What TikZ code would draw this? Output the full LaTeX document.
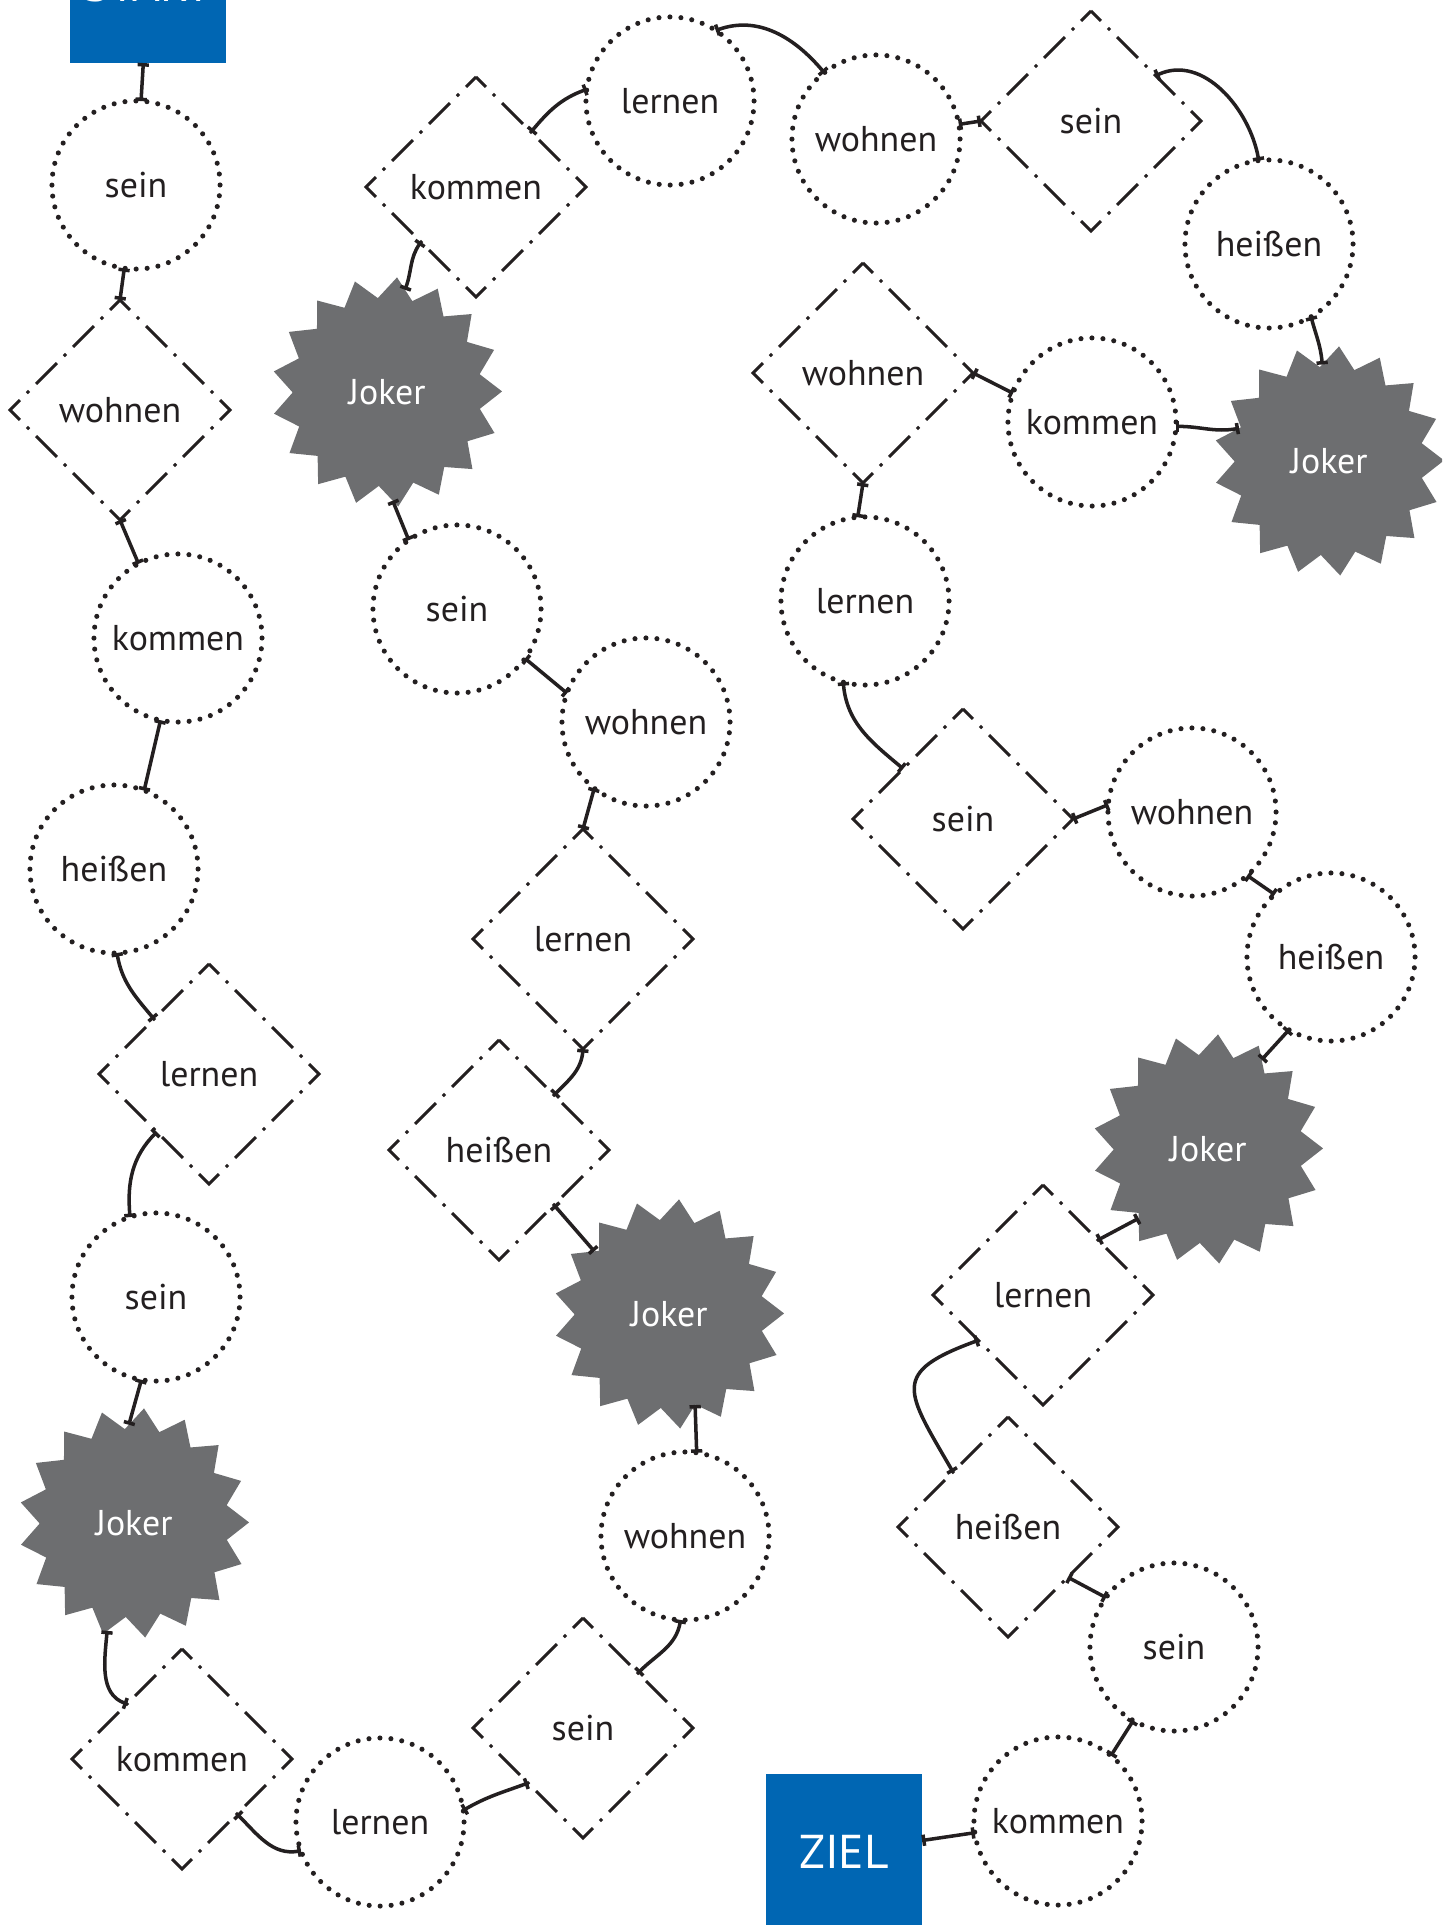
\documentclass[tikz,border=0pt]{standalone}
\usepackage{fontspec}
\setmainfont{PT Sans}
\usepackage{xcolor}
\usepackage{tikz}
\usetikzlibrary{shapes.geometric, arrows.meta}
\definecolor{ink}{RGB}{35,31,32}
\definecolor{jokergray}{RGB}{109,110,112}
\definecolor{fieldblue}{RGB}{0,102,179}
\tikzstyle{ring} = [circle, minimum size=1.68cm, inner sep=0pt, outer sep=0pt, draw=ink, line width=1.45pt, line cap=round, dash pattern=on 0pt off 3.13pt, text=ink, font=\fontsize{10.2}{12}\selectfont]
\tikzstyle{rhomb} = [diamond, minimum size=2.2cm, inner sep=0pt, outer sep=0pt, text=ink, font=\fontsize{10.2}{12}\selectfont]
\tikzstyle{rhombline} = [draw=ink, line width=0.85pt, line join=miter, dash pattern=on 8pt off 2.8pt on 0.9pt off 2.8pt on 8.38pt off 2.8pt on 0.9pt off 2.8pt on 8.38pt off 2.8pt on 0.9pt off 2.8pt, dash phase=4pt]
\tikzstyle{joker} = [star, star points=17, star point ratio=1.22, shape border rotate=-5, minimum size=2.3cm, inner sep=0pt, outer sep=0pt, fill=jokergray, text=white, font=\fontsize{10.2}{12}\selectfont]
\tikzstyle{goal} = [rectangle, minimum size=1.56cm, inner sep=0pt, outer sep=0pt, fill=fieldblue, text=white, font=\fontsize{13.5}{16}\selectfont]
\tikzstyle{conn} = [draw=ink, line width=1pt, {Bar[width=3.2pt]}-{Bar[width=3.2pt]}]

\begin{document}
\begin{tikzpicture}[x=0.01cm, y=0.01cm]
        \useasboundingbox (0,0) rectangle (1442,-1925);
        \clip (0,0) rectangle (1442,-1925);

        % left column
        \node (start) [goal] at (148,15) {START};
        \node (sein1) [ring] at (136,-185) {sein};
        \node (wohnen1) [rhomb] at (120,-410) {wohnen};
        \node (kommen1) [ring] at (178,-638) {kommen};
        \node (heissen1) [ring] at (114,-869) {heißen};
        \node (lernen1) [rhomb] at (209,-1074) {lernen};
        \node (sein2) [ring] at (156,-1297) {sein};
        \node (joker1) [joker] at (134,-1523) {Joker};
        \node (kommen2) [rhomb] at (182,-1759) {kommen};

        % middle column
        \node (lernen2) [ring] at (380,-1822) {lernen};
        \node (sein3) [rhomb] at (583,-1728) {sein};
        \node (wohnen2) [ring] at (685,-1536) {wohnen};
        \node (joker2) [joker] at (669,-1314) {Joker};
        \node (heissen2) [rhomb] at (499,-1150) {heißen};
        \node (lernen3) [rhomb] at (583,-939) {lernen};
        \node (wohnen3) [ring] at (646,-722) {wohnen};
        \node (sein4) [ring] at (457,-609) {sein};
        \node (joker3) [joker] at (387,-392) {Joker};
        \node (kommen3) [rhomb] at (476,-187) {kommen};

        % top row
        \node (lernen4) [ring] at (670,-101) {lernen};
        \node (wohnen4) [ring] at (876,-139) {wohnen};
        \node (sein5) [rhomb] at (1091,-121) {sein};
        \node (heissen3) [ring] at (1269,-244) {heißen};
        \node (joker4) [joker] at (1329,-461) {Joker};

        % right column
        \node (kommen4) [ring] at (1092,-422) {kommen};
        \node (wohnen5) [rhomb] at (863,-373) {wohnen};
        \node (lernen5) [ring] at (865,-601) {lernen};
        \node (sein6) [rhomb] at (963,-819) {sein};
        \node (wohnen6) [ring] at (1192,-812) {wohnen};
        \node (heissen4) [ring] at (1331,-957) {heißen};
        \node (joker5) [joker] at (1208,-1149) {Joker};
        \node (lernen6) [rhomb] at (1043,-1295) {lernen};
        \node (heissen5) [rhomb] at (1008,-1527) {heißen};
        \node (sein7) [ring] at (1174,-1647) {sein};
        \node (kommen5) [ring] at (1058,-1821) {kommen};
        \node (ziel) [goal] at (844,-1852) {ZIEL};

        % diamond borders
        \foreach \d in {wohnen1,lernen1,kommen2,sein3,heissen2,lernen3,kommen3,sein5,wohnen5,sein6,lernen6,heissen5}
            \draw [rhombline] (\d.north) -- (\d.east) -- (\d.south) -- (\d.west) -- cycle;

        % connectors
        \draw [conn] (start) -- (sein1);
        \draw [conn] (sein1.262) -- (wohnen1.north);
        \draw [conn] (wohnen1.south) -- (kommen1.118);
        \draw [conn] (kommen1.258) -- (heissen1.69);
        \draw [conn] (heissen1.272) to[out=-80,in=130] (lernen1.135);
        \draw [conn] (lernen1.228) to[out=225,in=95] (sein2.108);
        \draw [conn] (sein2.260) -- (joker1.93);
        \draw [conn] (joker1.256) to[out=-95,in=160] (kommen2.135);
        \draw [conn] (kommen2.-45) to[out=-45,in=190] (lernen2.200);
        \draw [conn] (lernen2.8) to[out=30,in=200] (sein3.225);
        \draw [conn] (sein3.45) to[out=45,in=-100] (wohnen2.267);
        \draw [conn] (wohnen2.82) -- (joker2.286);
        \draw [conn] (joker2.140) -- (heissen2.-45);
        \draw [conn] (heissen2.45) to[out=45,in=-95] (lernen3.south);
        \draw [conn] (lernen3.north) -- (wohnen3.232);
        \draw [conn] (wohnen3.160) -- (sein4.-36);
        \draw [conn] (sein4.125) -- (joker3.273);
        \draw [conn] (joker3.80) to[out=70,in=-125] (kommen3.225);
        \draw [conn] (kommen3.45) to[out=50,in=200] (lernen4.172);
        \draw [conn] (lernen4.57) to[out=20,in=130] (wohnen4.128);
        \draw [conn] (wohnen4.10) -- (sein5.west);
        \draw [conn] (sein5.35) to[out=25,in=100] (heissen3.97);
        \draw [conn] (heissen3.300) to[out=-75,in=95] (joker4.94);
        \draw [conn] (joker4.160) to[out=190,in=0] (kommen4.-3);
        \draw [conn] (kommen4.160) -- (wohnen5.east);
        \draw [conn] (wohnen5.south) -- (lernen5.95);
        \draw [conn] (lernen5.255) to[out=-85,in=140] (sein6.140);
        \draw [conn] (sein6.east) -- (wohnen6.175);
        \draw [conn] (wohnen6.-49) -- (heissen4.132);
        \draw [conn] (heissen4.240) -- (joker5.59);
        \draw [conn] (joker5.225) -- (lernen6.45);
        \draw [conn] (lernen6.215) to[out=200,in=120,looseness=1.8] (heissen5.135);
        \draw [conn] (heissen5.-40) -- (sein7.144);
        \draw [conn] (sein7.241) -- (kommen5.51);
        \draw [conn] (kommen5.188) -- (ziel);

\end{tikzpicture}
\end{document}
